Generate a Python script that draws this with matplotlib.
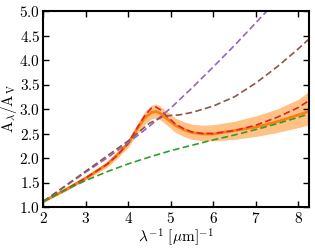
import numpy as np
import matplotlib
matplotlib.use('Agg')
import matplotlib.pyplot as plt

plt.rcParams['font.family'] = 'serif'
plt.rcParams['font.serif'] = ['cmr10']
plt.rcParams['mathtext.fontset'] = 'cm'
plt.rcParams['axes.formatter.use_mathtext'] = True

# inverse wavelength grid [1/um]
x = [2.0, 2.5, 3.0, 3.5, 3.75, 4.0, 4.2, 4.4, 4.55, 4.65, 4.75, 4.9, 5.1, 5.3,
     5.5, 5.75, 6.0, 6.5, 7.0, 7.5, 8.0, 8.25]

# median curve and its band
med = [1.11, 1.34, 1.59, 1.87, 2.07, 2.30, 2.58, 2.83, 2.93, 2.95, 2.91, 2.81,
       2.67, 2.58, 2.52, 2.49, 2.49, 2.56, 2.63, 2.74, 2.88, 2.95]
upper = [1.12, 1.37, 1.63, 1.92, 2.14, 2.38, 2.68, 2.96, 3.08, 3.10, 3.06, 2.95,
         2.82, 2.74, 2.69, 2.67, 2.68, 2.75, 2.86, 3.00, 3.20, 3.36]
lower = [1.10, 1.31, 1.55, 1.81, 2.00, 2.22, 2.48, 2.70, 2.80, 2.82, 2.78, 2.68,
         2.53, 2.44, 2.38, 2.35, 2.35, 2.38, 2.44, 2.52, 2.62, 2.68]
red = [1.11, 1.34, 1.59, 1.87, 2.06, 2.30, 2.60, 2.88, 3.02, 3.04, 2.99, 2.86,
       2.70, 2.60, 2.53, 2.50, 2.50, 2.56, 2.67, 2.83, 3.03, 3.17]

# other curves
x_pu = [2.0, 2.5, 3.0, 3.5, 4.0, 4.5, 5.0, 5.5, 6.0, 6.5, 7.0, 7.5]
purple = [1.11, 1.41, 1.71, 2.00, 2.31, 2.65, 3.02, 3.43, 3.86, 4.30, 4.76, 5.22]

x_br = [2.0, 2.5, 3.0, 3.5, 4.0, 4.5, 4.8, 5.0, 5.2, 5.5, 6.0, 6.5, 7.0, 7.5, 8.0, 8.25]
brown = [1.11, 1.42, 1.73, 2.04, 2.35, 2.71, 2.84, 2.87, 2.88, 2.93, 3.06, 3.25,
         3.53, 3.86, 4.23, 4.43]

x_gr = [2.0, 2.5, 3.0, 3.5, 4.0, 4.5, 5.0, 5.5, 6.0, 6.5, 7.0, 7.5, 8.0, 8.25]
green = [1.11, 1.34, 1.54, 1.72, 1.88, 2.02, 2.15, 2.26, 2.37, 2.47, 2.58, 2.70,
         2.83, 2.90]

fig = plt.figure(figsize=(3.15, 2.5), dpi=100)
ax = fig.add_axes([0.137, 0.172, 0.844, 0.784])

ax.fill_between(x, lower, upper, color='#ffbb78', alpha=0.9, lw=0)
ax.plot(x, med, color='#ff7f0e', lw=2)
ax.plot(x, red, color='#d62728', lw=1.2, ls=(0, (4, 2)))
ax.plot(x_pu, purple, color='#9467bd', lw=1.2, ls=(0, (4, 2)))
ax.plot(x_br, brown, color='#8c564b', lw=1.2, ls=(0, (4, 2)))
ax.plot(x_gr, green, color='#2ca02c', lw=1.2, ls=(0, (4, 2)))

ax.set_xlim(2, 8.25)
ax.set_ylim(1.0, 5.0)
ax.set_xticks([2, 3, 4, 5, 6, 7, 8])
ax.set_yticks(np.arange(1.0, 5.01, 0.5))
ax.set_xlabel(r'$\lambda^{-1}\ [\mu\mathrm{m}]^{-1}$', fontsize=11, labelpad=0)
ax.set_ylabel(r'$\mathrm{A}_\lambda/\mathrm{A}_\mathrm{V}$', fontsize=11)
ax.yaxis.set_label_coords(-0.09, 0.5)
ax.tick_params(direction='in', top=True, right=True, labelsize=11, width=1, length=4)
ax.tick_params(axis='x', pad=3)
ax.tick_params(axis='y', pad=2)
for s in ax.spines.values():
    s.set_linewidth(1.5)

fig.savefig('out.png', dpi=100)
